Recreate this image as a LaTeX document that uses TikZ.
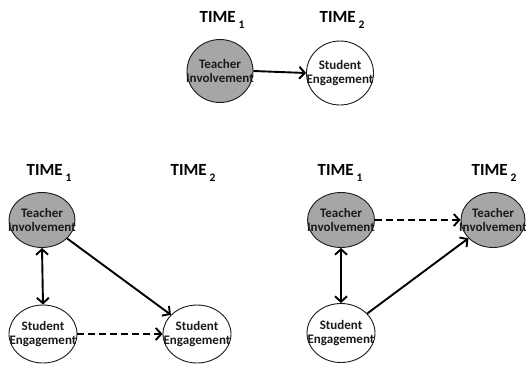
\documentclass[tikz,border=0pt]{standalone}
\usepackage{fontspec}
\setmainfont{Carlito}
\usetikzlibrary{shapes.geometric,arrows.meta}
\definecolor{tifill}{HTML}{A6A6A6}
\definecolor{inkc}{HTML}{1A1A1A}
\tikzset{
  varbox/.style={ellipse,draw=inkc,line width=0.9pt,inner xsep=-20pt,inner ysep=-12pt,align=center,text=inkc,
    font=\bfseries\fontsize{13}{13.5}\selectfont},
  tibox/.style={varbox,fill=tifill},
  sebox/.style={varbox,fill=white},
  timelbl/.style={text=black,font=\bfseries\fontsize{17}{18}\selectfont,inner sep=0pt},
  conn/.style={draw=black,line width=1.9pt,-{Straight Barb[length=5.5pt,width=12pt,line width=1.9pt]}},
  dconn/.style={conn,dash pattern=on 7pt off 4pt},
  biconn/.style={draw=black,line width=1.9pt,{Straight Barb[length=5.5pt,width=12pt,line width=1.9pt]}-{Straight Barb[length=5.5pt,width=12pt,line width=1.9pt]}}
}
\newcommand{\timelabel}[1]{TIME\,\raisebox{-0.3em}{\fontsize{11.5}{12}\selectfont #1}}
\begin{document}
\begin{tikzpicture}[x=1pt,y=-1pt]
\useasboundingbox (0,0) rectangle (526,365);
% top panel
\node[timelbl] (t1a) at (222,20) {\timelabel{1}};
\node[timelbl] (t2a) at (342,20) {\timelabel{2}};
\node[tibox,minimum width=66pt,minimum height=63pt] (tia) at (220,71) {Teacher\\Involvement};
\node[sebox,minimum width=67pt,minimum height=64pt] (sea) at (340,73) {Student\\Engagement};
\draw[conn] (tia.east) -- (sea.west);
% bottom left panel
\node[timelbl] (t1b) at (49,173) {\timelabel{1}};
\node[timelbl] (t2b) at (193,173) {\timelabel{2}};
\node[tibox,minimum width=66pt,minimum height=55pt] (tib) at (42,220) {Teacher\\Involvement};
\node[sebox,minimum width=68pt,minimum height=58pt] (seb) at (43,334) {Student\\Engagement};
\node[sebox,minimum width=68pt,minimum height=58pt] (seb2) at (197,334) {Student\\Engagement};
\draw[biconn] (tib.south) -- (seb.north);
\draw[conn] (tib) -- (seb2);
\draw[dconn] (seb.east) -- (seb2.west);
% bottom right panel
\node[timelbl] (t1c) at (340,173) {\timelabel{1}};
\node[timelbl] (t2c) at (494,173) {\timelabel{2}};
\node[tibox,minimum width=67pt,minimum height=55pt] (tic) at (341,220) {Teacher\\Involvement};
\node[tibox,minimum width=64pt,minimum height=55pt] (tic2) at (493,220) {Teacher\\Involvement};
\node[sebox,minimum width=68pt,minimum height=59pt] (sec) at (341,333) {Student\\Engagement};
\draw[dconn] (tic.east) -- (tic2.west);
\draw[biconn] (tic.south) -- (sec.north);
\draw[conn] (sec) -- (tic2);
\end{tikzpicture}
\end{document}
